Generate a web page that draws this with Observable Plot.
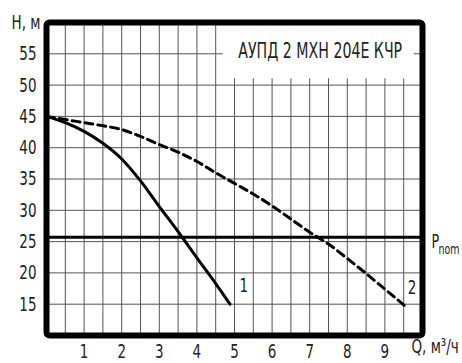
<!DOCTYPE html>
<html>
<head>
<meta charset="utf-8">
<script src="https://cdn.jsdelivr.net/npm/d3@7"></script>
<script src="https://cdn.jsdelivr.net/npm/@observablehq/plot@0.6"></script>
<style>
  html, body { margin: 0; padding: 0; background: #fff; }
</style>
</head>
<body>
<div id="chart"></div>
<script>
// Curve 1 (solid)
const q1 = [0, 0.5, 1, 1.5, 2, 2.5, 3, 3.5, 4, 4.5, 4.88];
const h1 = [45, 44.0, 42.6, 40.7, 38.2, 34.7, 30.6, 26.6, 22.4, 18.3, 15.0];
// Curve 2 (dashed)
const q2 = [0, 0.5, 1, 1.5, 2, 2.5, 3, 3.5, 4, 4.5, 5, 5.5, 6, 6.5, 7, 7.5, 8, 8.5, 9, 9.6];
const h2 = [45, 44.5, 44.0, 43.5, 42.9, 41.8, 40.5, 39.3, 37.8, 36.0, 34.3, 32.6, 30.7, 28.6, 26.5, 24.6, 22.3, 19.9, 17.4, 14.4];
// Nominal pressure
const pNom = 25.7;
// Ticks and grid
const xTicks = [1, 2, 3, 4, 5, 6, 7, 8, 9];
const yTicks = [15, 20, 25, 30, 35, 40, 45, 50, 55];
const xGrid = d3.range(0.5, 10, 0.5);
const yGrid = [15, 20, 25, 30, 35, 40, 45, 50, 55];
// Annotations
const titleText = "АУПД 2 МХН 204Е КЧР";
const titleBox = [{x1: 4.7, x2: 9.78, y1: 51, y2: 60}];
const titleAt = [{x: 7.28, y: 55.4}];
const curveLabels = [{x: 5.25, y: 18.0, t: "1"}, {x: 9.72, y: 17.6, t: "2"}];

const s1 = q1.map((q, i) => ({q, h: h1[i]}));
const s2 = q2.map((q, i) => ({q, h: h2[i]}));

const font = "'DejaVu Sans Condensed', 'Liberation Sans Narrow', sans-serif";

const chart = Plot.plot({
  width: 462,
  height: 363,
  marginLeft: 46,
  marginRight: 40,
  marginTop: 22,
  marginBottom: 28,
  style: {fontFamily: font, fontSize: "20px", color: "#222", background: "#fff", overflow: "visible"},
  x: {domain: [0, 10], ticks: xTicks, tickSize: 0, tickPadding: 8, label: null},
  y: {domain: [10, 60], ticks: yTicks, tickSize: 0, tickPadding: 10, label: null},
  marks: [
    Plot.ruleX(xGrid, {stroke: "#555", strokeWidth: 1}),
    Plot.ruleY(yGrid, {stroke: "#555", strokeWidth: 1}),
    Plot.rect(titleBox, {x1: "x1", x2: "x2", y1: "y1", y2: "y2", fill: "white"}),
    Plot.text(titleAt, {x: "x", y: "y", text: () => titleText, fontSize: 21, fill: "#222"}),
    Plot.ruleY([pNom], {stroke: "black", strokeWidth: 3}),
    Plot.line(s1, {x: "q", y: "h", stroke: "black", strokeWidth: 3, curve: "monotone-x"}),
    Plot.line(s2, {x: "q", y: "h", stroke: "black", strokeWidth: 3, strokeDasharray: "8,5", curve: "monotone-x"}),
    Plot.text(curveLabels, {x: "x", y: "y", text: "t", fontSize: 20, fill: "#222"}),
    Plot.text([pNom], {x: () => 10, y: d => d, text: () => "P", textAnchor: "start", dx: 9, dy: 5, fontSize: 19, fill: "#222"}),
    Plot.text([pNom], {x: () => 10, y: d => d, text: () => "nom", textAnchor: "start", dx: 16, dy: 7, fontSize: 14, fill: "#222", lineAnchor: "top"}),
    Plot.text(["Н, м"], {frameAnchor: "top-left", text: d => d, textAnchor: "end", dx: -6, dy: -8, fill: "#222"}),
    Plot.text(["Q, м³/ч"], {frameAnchor: "bottom-right", text: d => d, textAnchor: "start", dx: -11, dy: 17, fill: "#222"}),
    Plot.frame({stroke: "black", strokeWidth: 6, rx: 3})
  ]
});
// condense all text horizontally around its anchor, like the narrow drafting font
chart.querySelectorAll("text").forEach(t => {
  const tr = t.getAttribute("transform") || "";
  t.setAttribute("transform", (tr + " scale(0.75,1)").trim());
});
document.getElementById("chart").appendChild(chart);
</script>
</body>
</html>
